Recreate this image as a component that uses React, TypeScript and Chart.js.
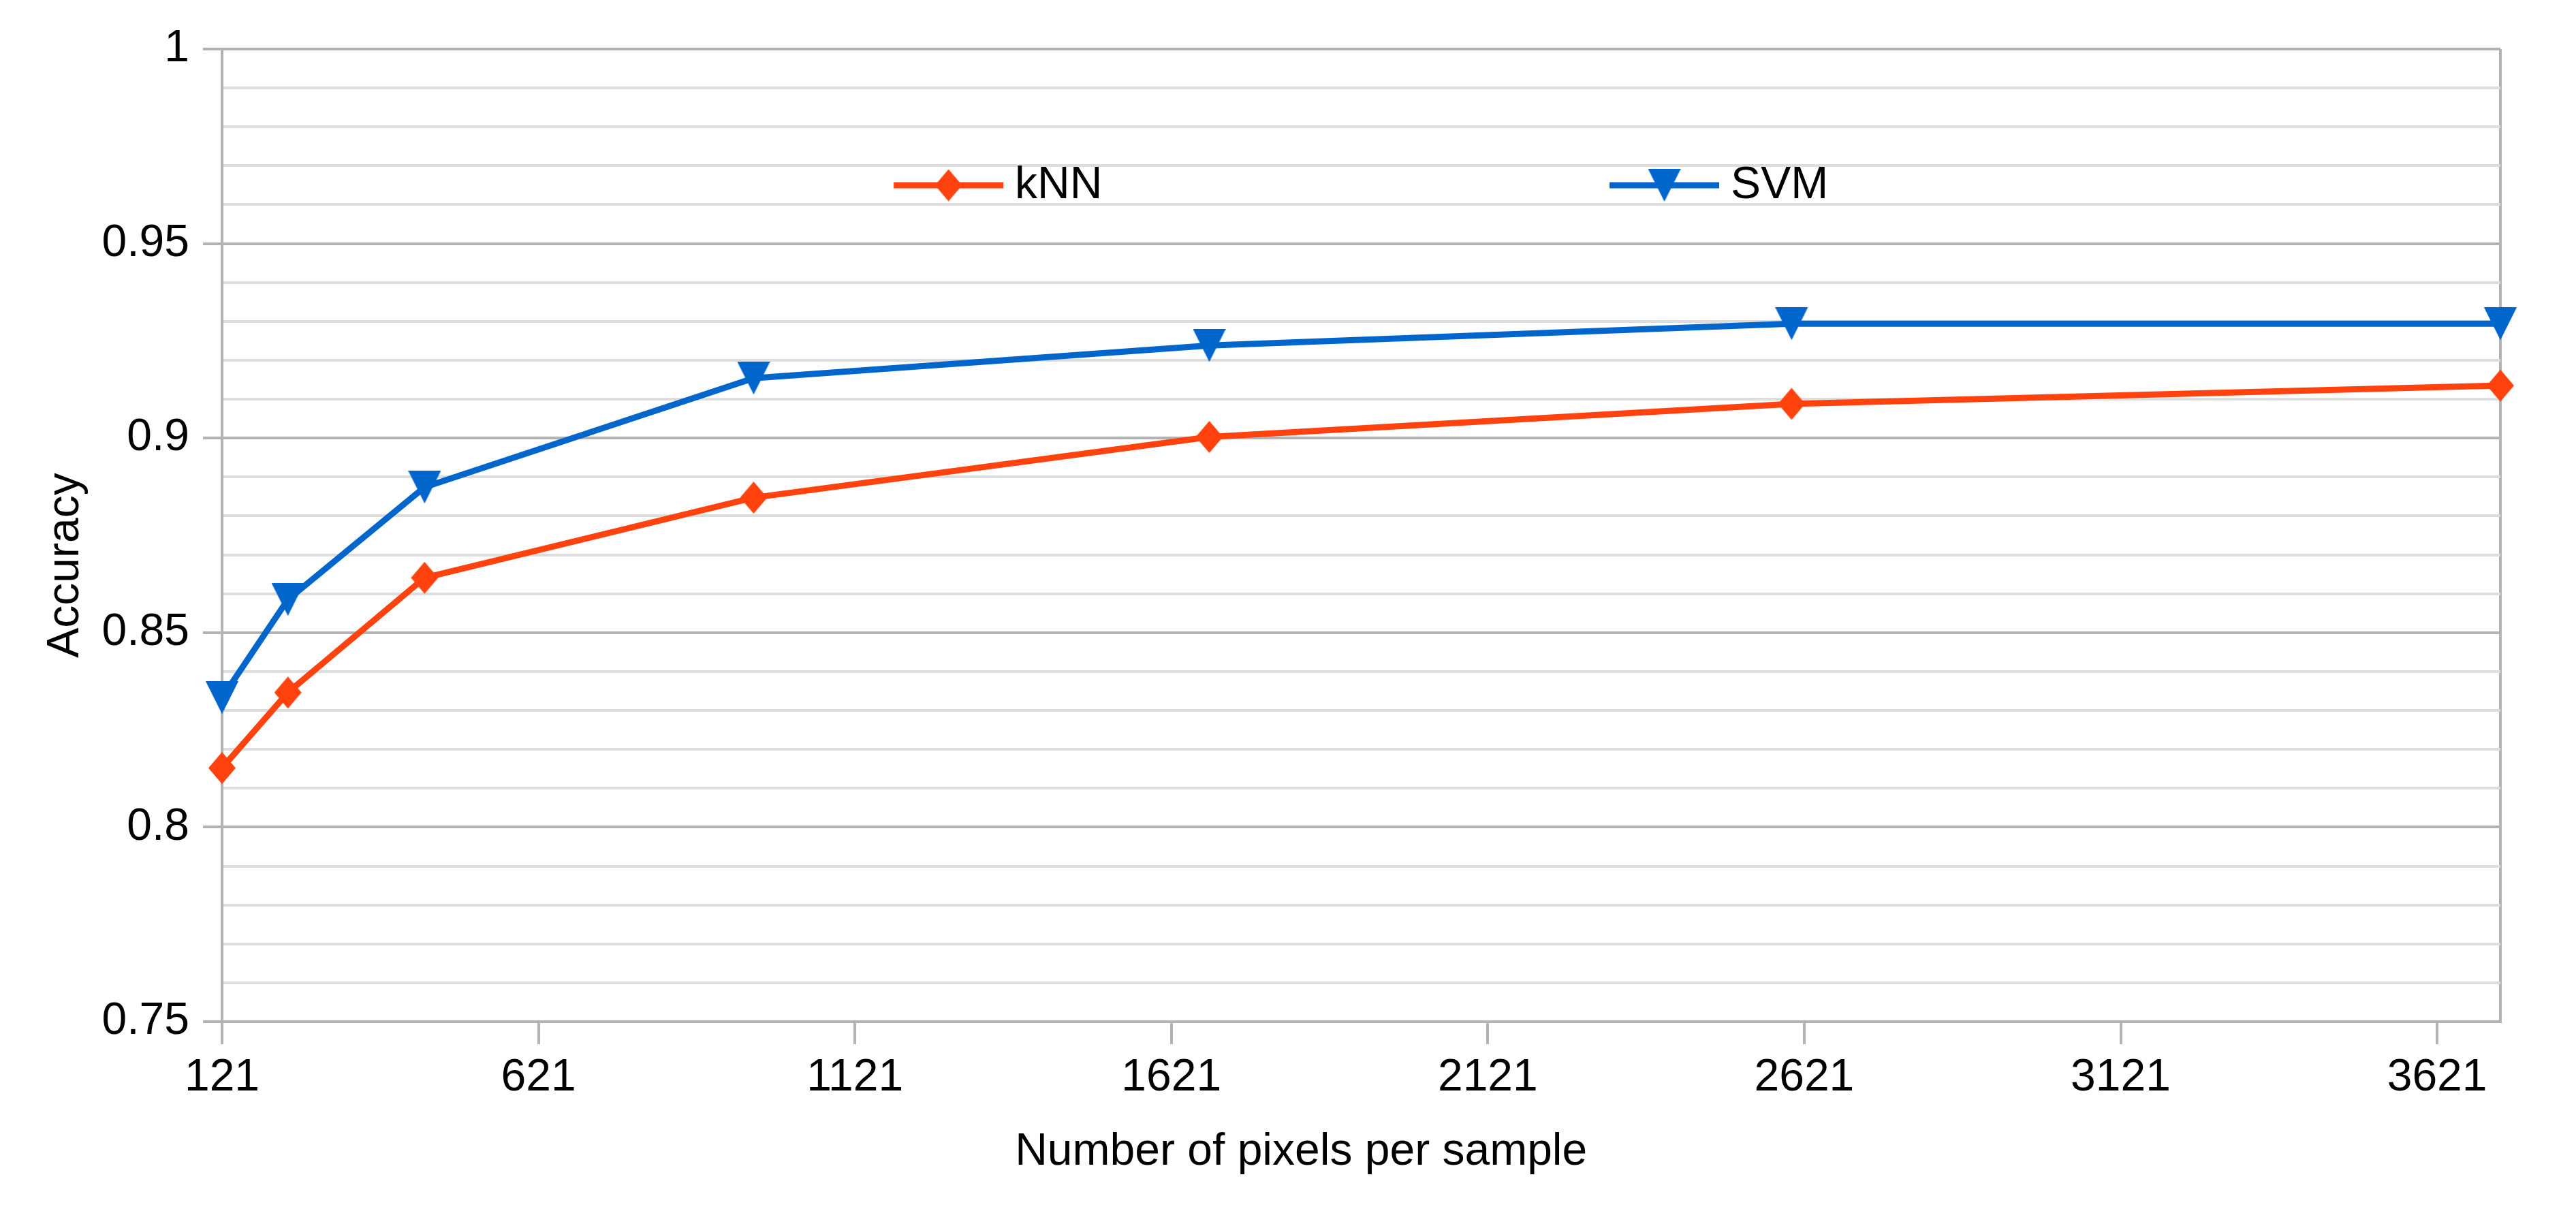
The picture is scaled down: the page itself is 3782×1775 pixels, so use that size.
import React, { useEffect, useRef } from 'react';
import { Chart, registerables } from 'chart.js';
import { drawPoint } from 'chart.js/helpers';

Chart.register(...registerables);

const PIXELS_PER_SAMPLE = [121, 225, 441, 961, 1681, 2601, 3721];
const KNN_ACCURACY = [0.8152, 0.8346, 0.8641, 0.8847, 0.9003, 0.9088, 0.9135];
const SVM_ACCURACY = [0.8333, 0.8585, 0.8874, 0.9154, 0.9238, 0.9294, 0.9294];
const X_TICKS = [121, 621, 1121, 1621, 2121, 2621, 3121, 3621];
const X_MIN = 121;
const X_MAX = 3721;
const Y_MIN = 0.75;
const Y_MAX = 1;
const Y_MAJOR = 0.05;
const Y_MINOR = 0.01;
const SERIES_NAMES = ['kNN', 'SVM'];
const X_TITLE = 'Number of pixels per sample';
const Y_TITLE = 'Accuracy';

const W = 3782;
const H = 1775;
const FONT = 'Liberation Sans, Arial, sans-serif';
const FS = 66;
const MAJOR = '#b3b3b3';
const MINOR = '#dddddd';
const KNN_COLOR = '#ff420e';
const SVM_COLOR = '#0066cc';

const isMajor = (v: number) => Math.abs(Math.round(v / Y_MAJOR) * Y_MAJOR - v) < 1e-6;

function makeSymbol(kind: 'diamond' | 'tridown', w: number, h: number, color: string) {
  const c = document.createElement('canvas');
  c.width = w;
  c.height = h;
  const g = c.getContext('2d')!;
  g.fillStyle = color;
  g.beginPath();
  if (kind === 'diamond') {
    g.moveTo(w / 2, 0);
    g.lineTo(w, h / 2);
    g.lineTo(w / 2, h);
    g.lineTo(0, h / 2);
  } else {
    g.moveTo(0, 0);
    g.lineTo(w, 0);
    g.lineTo(w / 2, h);
  }
  g.closePath();
  g.fill();
  return c;
}

const overlayPlugin = {
  id: 'overlay',
  afterDraw(chart: any) {
    const ctx = chart.ctx as CanvasRenderingContext2D;
    const a = chart.chartArea;
    const w = a.right - a.left;
    ctx.save();
    ctx.fillStyle = '#000';
    ctx.font = `${FS}px ${FONT}`;
    // x title
    ctx.textAlign = 'center';
    ctx.textBaseline = 'alphabetic';
    ctx.fillText(X_TITLE, a.left + w * 0.4736, a.bottom + 210);
    // y title
    ctx.save();
    ctx.translate(a.left - 211, (a.top + a.bottom) / 2 + 44);
    ctx.rotate(-Math.PI / 2);
    ctx.fillText(Y_TITLE, 0, 0);
    ctx.restore();
    // legend
    const starts = [a.left + w * 0.2948, a.left + w * 0.609];
    const ly = a.top + 200;
    chart.data.datasets.forEach((ds: any, i: number) => {
      const x0 = starts[i];
      const len = 161;
      ctx.strokeStyle = ds.borderColor;
      ctx.lineWidth = ds.borderWidth;
      ctx.beginPath();
      ctx.moveTo(x0, ly);
      ctx.lineTo(x0 + len, ly);
      ctx.stroke();
      drawPoint(ctx, { pointStyle: ds.pointStyle, rotation: 0, radius: ds.pointRadius, borderWidth: 0 }, x0 + len / 2, ly);
      ctx.fillStyle = '#000';
      ctx.textAlign = 'left';
      ctx.textBaseline = 'alphabetic';
      ctx.fillText(ds.label, x0 + len + 17, ly + 19);
    });
    ctx.restore();
  },
};

export default function App() {
  const ref = useRef<HTMLCanvasElement>(null);
  useEffect(() => {
    if (!ref.current) return;
    const diamond = makeSymbol('diamond', 40, 47, KNN_COLOR);
    const tri = makeSymbol('tridown', 48, 48, SVM_COLOR);
    const chart = new Chart(ref.current, {
      type: 'line',
      data: {
        datasets: [
          {
            label: SERIES_NAMES[0],
            data: PIXELS_PER_SAMPLE.map((x, i) => ({ x, y: KNN_ACCURACY[i] })),
            borderColor: KNN_COLOR,
            backgroundColor: KNN_COLOR,
            borderWidth: 9,
            pointStyle: diamond,
            pointRadius: 24,
            pointBackgroundColor: KNN_COLOR,
            pointBorderColor: KNN_COLOR,
            pointBorderWidth: 0,
            tension: 0,
            clip: false,
          } as any,
          {
            label: SERIES_NAMES[1],
            data: PIXELS_PER_SAMPLE.map((x, i) => ({ x, y: SVM_ACCURACY[i] })),
            borderColor: SVM_COLOR,
            backgroundColor: SVM_COLOR,
            borderWidth: 9,
            pointStyle: tri,
            pointRadius: 24,
            pointBackgroundColor: SVM_COLOR,
            pointBorderColor: SVM_COLOR,
            pointBorderWidth: 0,
            tension: 0,
            clip: false,
          } as any,
        ],
      },
      options: {
        animation: false,
        responsive: false,
        devicePixelRatio: 1,
        layout: { padding: { top: 72, right: 111, left: 0, bottom: 0 } },
        plugins: { legend: { display: false }, tooltip: { enabled: false }, title: { display: false } },
        scales: {
          x: {
            type: 'linear',
            min: X_MIN,
            max: X_MAX,
            afterBuildTicks: (s: any) => {
              s.ticks = [...X_TICKS, X_MAX].map((v) => ({ value: v }));
            },
            afterFit: (s: any) => {
              s.height = 275;
            },
            ticks: {
              autoSkip: false,
              maxRotation: 0,
              padding: 10,
              color: '#000',
              font: { family: FONT, size: FS },
              callback: (v: any) => (X_TICKS.includes(Number(v)) ? String(v) : ''),
            },
            grid: {
              drawOnChartArea: true,
              drawTicks: true,
              tickLength: 33,
              lineWidth: 4,
              color: (c: any) => (c.tick && c.tick.value === X_MAX ? MAJOR : 'rgba(0,0,0,0)'),
              tickColor: (c: any) => (c.tick && c.tick.value === X_MAX ? 'rgba(0,0,0,0)' : MAJOR),
            },
            border: { display: true, color: MAJOR, width: 4 },
          },
          y: {
            type: 'linear',
            min: Y_MIN,
            max: Y_MAX,
            afterFit: (s: any) => {
              s.width = 326;
            },
            ticks: {
              stepSize: Y_MINOR,
              autoSkip: false,
              maxTicksLimit: 100,
              padding: 20,
              color: '#000',
              font: { family: FONT, size: FS },
              callback: (v: any) => (isMajor(Number(v)) ? String(Number(Number(v).toFixed(2))) : ''),
            },
            grid: {
              drawTicks: true,
              tickLength: 28,
              lineWidth: 4,
              color: (c: any) => (c.tick && isMajor(c.tick.value) ? MAJOR : MINOR),
              tickColor: (c: any) => (c.tick && isMajor(c.tick.value) ? MAJOR : 'rgba(0,0,0,0)'),
            },
            border: { display: true, color: MAJOR, width: 4 },
          },
        },
      },
      plugins: [overlayPlugin],
    } as any);
    return () => chart.destroy();
  }, []);
  return (
    <div style={{ position: 'absolute', left: 0, top: 0, width: W, height: H, background: '#fff' }}>
      <canvas ref={ref} width={W} height={H} style={{ width: W, height: H, display: 'block' }} />
    </div>
  );
}
